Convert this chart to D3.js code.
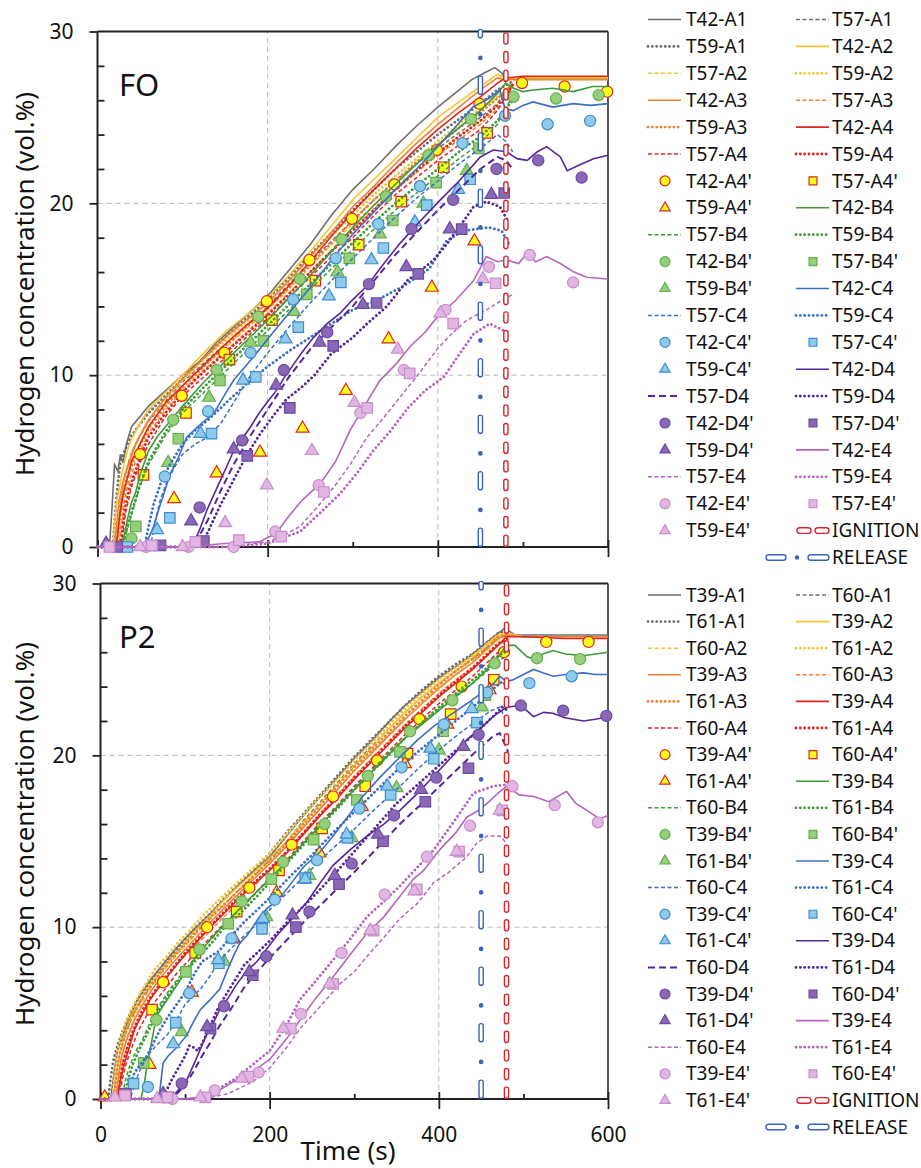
<!DOCTYPE html>
<html lang="en">
<head>
<meta charset="UTF-8">
<title>Hydrogen concentration - FO / P2</title>
<script src="https://d3js.org/d3.v7.min.js"></script>
<style>
  body { margin: 0; background: #fff; }
  svg text { font-family: "Noto Sans", sans-serif; fill: #111; }
</style>
</head>
<body>
<svg id="chart" width="921" height="1168"></svg>
<script>
// ---------- data: [time (s), H2 vol.%] ----------
const xTicks = [0, 200, 400, 600];
const xMinor = [100, 300, 500];
const yTicks = [0, 10, 20, 30];
const yMinor = [2, 4, 6, 8, 12, 14, 16, 18, 22, 24, 26, 28];
const releaseTime = 450;
const ignitionTime = 480;

// ---- FO ----
const fo_T42_A1 = [[0,0],[14,0],[17,2.2],[20,4.8],[24,4.4],[27,5.4],[30,4.9],[34,6],[40,7],[50,7.6],[60,8.2],[80,9.1],[100,10],[120,10.8],[140,11.9],[160,12.8],[180,13.7],[200,14.6],[225,16.1],[250,17.6],[275,19.3],[300,20.8],[325,22],[350,23.3],[375,24.5],[400,25.6],[420,26.4],[440,27.2],[455,27.6],[467,27.9],[475,27.6],[480,27.2],[500,27.3],[550,27.3],[600,27.3]];
const fo_T57_A1 = [[0,0],[22,0],[27,2.5],[32,4.2],[40,5.5],[50,6.5],[60,7.3],[80,8.5],[100,9.6],[125,10.7],[150,11.8],[175,12.9],[200,14],[225,15.3],[250,16.6],[275,17.8],[300,19],[325,20.2],[350,21.3],[375,22.3],[400,23.2],[425,24.1],[450,25],[470,25.8],[480,26.6],[488,27]];
const fo_T59_A1 = [[0,0],[18,0],[22,2.8],[27,5],[32,5.6],[40,6.5],[60,7.8],[80,8.8],[100,9.8],[125,11],[150,12.2],[175,13.3],[200,14.4],[225,15.7],[250,17],[275,18.3],[300,19.6],[325,20.8],[350,22],[375,23],[400,24],[425,24.9],[450,25.8],[470,26.6],[488,27.1]];
const fo_T42_A2 = [[0,0],[18,0],[22,2.5],[26,3.5],[30,4.6],[35,5.6],[40,6.3],[50,7.2],[60,8],[80,9],[100,10],[125,11.3],[150,12.5],[175,13.5],[200,14.5],[225,15.8],[250,17.2],[275,18.7],[300,20.2],[325,21.4],[350,22.6],[375,23.8],[400,25],[425,25.9],[450,26.8],[470,27.5],[480,27.3],[500,27.3],[550,27.3],[600,27.3]];
const fo_T57_A2 = [[0,0],[25,0],[30,2.4],[35,3.6],[40,4.8],[50,6],[60,7],[80,8.3],[100,9.4],[125,10.5],[150,11.6],[175,12.7],[200,13.8],[225,15],[250,16.3],[275,17.6],[300,18.8],[325,19.9],[350,21],[375,22],[400,23],[425,23.9],[450,24.8],[470,25.7],[480,26.4],[488,26.9]];
const fo_T59_A2 = [[0,0],[22,0],[27,2.8],[32,4],[40,5.5],[50,6.5],[60,7.4],[80,8.6],[100,9.7],[125,10.9],[150,12],[175,13.1],[200,14.2],[225,15.5],[250,16.8],[275,18.1],[300,19.3],[325,20.5],[350,21.6],[375,22.6],[400,23.6],[425,24.6],[450,25.5],[470,26.2],[488,27]];
const fo_T42_A3 = [[0,0],[20,0],[25,2.6],[30,3.8],[35,4.6],[45,6],[60,7.4],[80,8.7],[100,9.8],[125,11],[150,12.2],[175,13.2],[200,14.2],[225,15.5],[250,16.9],[275,18.3],[300,19.8],[325,21],[350,22.3],[375,23.5],[400,24.6],[425,25.6],[450,26.6],[470,27.3],[480,27.2],[500,27.2],[550,27.2],[600,27.2]];
const fo_T57_A3 = [[0,0],[25,0],[31,2.5],[36,3.6],[45,5],[60,6.6],[80,8],[100,9.1],[125,10.3],[150,11.4],[175,12.5],[200,13.6],[225,14.8],[250,16],[275,17.3],[300,18.5],[325,19.7],[350,20.8],[375,21.8],[400,22.8],[425,23.7],[450,24.6],[470,25.5],[480,26.2],[488,26.8]];
const fo_T59_A3 = [[0,0],[23,0],[28,2.6],[34,3.9],[45,5.4],[60,6.9],[80,8.2],[100,9.3],[125,10.5],[150,11.7],[175,12.8],[200,13.9],[225,15.1],[250,16.4],[275,17.7],[300,19],[325,20.2],[350,21.3],[375,22.4],[400,23.4],[425,24.4],[450,25.3],[470,26.1],[488,26.9]];
const fo_T42_A4 = [[0,0],[22,0],[26,1.8],[30,3],[35,4],[40,5],[50,6],[60,7],[80,8.4],[100,9.4],[125,10.6],[150,11.8],[175,12.9],[200,13.9],[225,15.2],[250,16.6],[275,18.1],[300,19.5],[325,20.8],[350,22],[375,23.2],[400,24.3],[425,25.3],[450,26.2],[470,27],[480,27.3],[500,27.4],[550,27.4],[600,27.4]];
const fo_T57_A4 = [[0,0],[28,0],[33,2],[40,3.5],[50,4.9],[60,6],[80,7.6],[100,8.8],[125,9.9],[150,11],[175,12.2],[200,13.3],[225,14.5],[250,15.7],[275,16.9],[300,18],[325,19.3],[350,20.5],[375,21.5],[400,22.5],[425,23.4],[450,24.3],[470,25.4],[480,26.2],[488,26.8]];
const fo_T59_A4 = [[0,0],[27,0],[32,2.2],[38,3.5],[50,5.2],[60,6.4],[80,7.8],[100,9],[125,10.2],[150,11.3],[175,12.4],[200,13.5],[225,14.7],[250,16],[275,17.2],[300,18.4],[325,19.6],[350,20.8],[375,21.9],[400,22.9],[425,23.9],[450,24.8],[470,25.7],[480,26.3],[488,26.9]];
const fo_T42_A4m = [[50,5.4],[99,8.8],[149,11.3],[199,14.3],[249,16.7],[299,19.1],[349,21.1],[399,23.1],[449,25.8],[499,27],[549,26.8],[599,26.5]];
const fo_T57_A4m = [[54,4.2],[104,7.8],[155,10.9],[205,13.2],[256,15.5],[307,17.6],[357,20.1],[407,22.1],[458,24.1]];
const fo_T59_A4m = [[90,2.8],[140,4.3],[191,5.5],[241,6.9],[292,9.1],[342,12.1],[393,15.1],[443,17.8]];
const fo_T42_B4 = [[0,0],[28,0],[32,0.8],[36,1.8],[40,2.6],[45,3.2],[50,4.2],[60,5.6],[70,6.4],[85,7.3],[100,8.2],[125,9.6],[150,10.8],[175,12],[200,13.2],[225,14.5],[250,15.8],[275,17.2],[300,18.6],[325,19.9],[350,21.1],[375,22.3],[400,23.4],[425,24.4],[450,25.4],[470,26.4],[480,27],[489,26.7],[500,26.5],[512,26.6],[535,26.7],[559,26.5],[582,26.8],[600,26.8]];
const fo_T57_B4 = [[0,0],[30,0],[36,1.2],[42,2.2],[50,3.6],[60,4.8],[80,6.5],[100,7.8],[125,9],[150,10.2],[175,11.4],[200,12.6],[225,13.8],[250,15],[275,16.2],[300,17.3],[325,18.5],[350,19.6],[375,20.6],[400,21.6],[425,22.6],[450,23.5],[470,24.6],[480,25.6],[488,26.2]];
const fo_T59_B4 = [[0,0],[29,0],[34,1],[40,2],[50,3.6],[60,5],[80,6.7],[100,8],[125,9.3],[150,10.5],[175,11.7],[200,12.9],[225,14.1],[250,15.3],[275,16.5],[300,17.7],[325,18.9],[350,20],[375,21],[400,22],[425,23],[450,23.9],[470,24.8],[480,25.5],[488,26]];
const fo_T42_B4m = [[40,0.5],[89,7.4],[140,10.3],[189,13.4],[238,15.6],[287,17.9],[339,20.4],[389,22.8],[439,24.9],[489,26.2],[539,26.1],[589,26.3]];
const fo_T57_B4m = [[45,1.2],[95,6.3],[144,9.7],[195,12],[246,14.7],[296,16.8],[347,19],[398,21.2],[448,23.2]];
const fo_T59_B4m = [[83,4.9],[131,8.7],[180,11.9],[231,13.7],[282,16],[332,18.2],[383,20],[434,21.9]];
const fo_T42_C4 = [[0,0],[50,0],[60,0.5],[66,1.2],[72,2.2],[78,3.1],[85,4.2],[95,5.2],[105,6.4],[120,7.1],[137,7.8],[150,8.9],[160,9.7],[172,10.4],[184,11.1],[200,12.1],[225,13.6],[250,15.1],[275,16.7],[300,18.2],[325,19.5],[350,20.8],[375,22],[400,23.3],[420,24.4],[441,25.6],[460,26.1],[473,26.6],[479,25.5],[489,25.4],[500,25.7],[512,25.9],[535,25.6],[559,25.8],[580,25.7],[600,25.8]];
const fo_T57_C4 = [[0,0],[62,0],[68,1.5],[73,2.6],[80,3.6],[90,4.6],[100,5.4],[115,6],[130,6.4],[145,7.2],[160,8.4],[180,10],[200,11.3],[225,12.8],[250,14.2],[275,15.5],[300,16.8],[325,18],[350,19.2],[375,20.3],[400,21.3],[425,22.3],[450,23.2],[470,24],[480,23.6],[488,23]];
const fo_T59_C4 = [[0,0],[55,0],[60,1.2],[66,2.5],[75,3.8],[85,4.8],[100,6],[115,6.8],[130,7.4],[145,8.1],[160,8.8],[180,9.7],[200,10.5],[225,11.4],[250,12.2],[275,13],[300,13.8],[315,14.1],[330,14.4],[345,14.8],[360,15.2],[375,15.7],[390,16.2],[400,17],[410,17.8],[430,18.4],[445,18.5],[460,18.6],[475,18.4],[484,17.6]];
const fo_T42_C4m = [[79,4.1],[130,7.9],[180,11.3],[230,14.4],[280,16.8],[330,18.8],[379,21],[429,23.5],[479,25.1],[529,24.6],[579,24.8]];
const fo_T57_C4m = [[35,0],[85,1.7],[134,6.6],[186,9.9],[236,12.8],[286,15.4],[336,17.4],[387,19.9],[438,21.4]];
const fo_T59_C4m = [[70,1],[121,6.6],[171,9.7],[221,12.1],[272,14.6],[322,16.7],[373,18.9],[424,20.8]];
const fo_T42_D4 = [[0,0],[105,0],[113,0.2],[120,1],[129,2.2],[140,3.4],[152,4.7],[160,5.6],[170,6.3],[180,7],[190,7.8],[199,8.4],[210,9.1],[220,9.9],[230,10.6],[240,11.3],[254,12.2],[270,13],[285,13.6],[300,14.4],[317,15.2],[335,16.4],[356,17.7],[380,19],[403,20.2],[425,21.3],[450,22.7],[465,23.1],[481,23],[493,22.6],[505,22.5],[517,23],[528,23.3],[544,22.7],[552,21.9],[565,22.2],[583,22.6],[600,22.8]];
const fo_T57_D4 = [[0,0],[110,0],[118,0.5],[130,1.6],[145,3.3],[160,4.8],[180,6.5],[200,8],[225,9.9],[250,11.5],[275,12.8],[300,14],[325,15.5],[350,17],[375,18.3],[400,19.6],[425,20.8],[450,22],[470,22.7],[480,22.5],[488,22]];
const fo_T59_D4 = [[0,0],[115,0],[122,0.3],[129,0.8],[145,2.5],[160,3.9],[175,5.3],[190,6.5],[206,7.6],[222,8.6],[240,9.3],[255,10],[274,11.2],[300,12.2],[317,13],[340,14],[364,15.5],[380,16.1],[395,16.7],[410,17.6],[425,18.6],[442,19.8],[457,20.1],[473,19.8],[482,19]];
const fo_T42_D4m = [[120,2.3],[170,6.2],[219,10.3],[270,12.5],[319,15.3],[369,18.5],[418,20.2],[469,22],[518,22.5],[569,21.5]];
const fo_T57_D4m = [[23,0],[74,0.1],[125,0.35],[176,5.3],[226,8.1],[277,11.7],[328,14.2],[377,15.9],[428,18.5],[478,20.6]];
const fo_T59_D4m = [[10,0.2],[60,0],[110,1.5],[160,5.7],[210,9.4],[261,11.9],[312,14.1],[363,16.3],[414,18.5],[463,20.5]];
const fo_T42_E4 = [[0,0],[100,0],[150,0.2],[190,0.3],[210,0.8],[225,1.8],[240,2.7],[262,3.7],[280,5],[297,6.8],[315,8.3],[332,9.7],[350,10.6],[368,11.7],[385,12.5],[403,13.6],[420,14.3],[442,15.5],[457,16.9],[470,16.6],[481,16.7],[495,16.5],[505,17.1],[515,16.6],[528,16.9],[544,16.5],[560,16],[575,15.7],[600,15.6]];
const fo_T57_E4 = [[0,0],[150,0],[200,0.3],[220,0.7],[238,1.2],[258,2.3],[278,3.5],[297,4.8],[317,6.4],[336,7.5],[356,8.75],[378,10.1],[399,11.5],[416,12.4],[434,13.2],[457,13.8],[470,14.2],[488,14.7]];
const fo_T59_E4 = [[0,0],[150,0],[200,0.2],[238,0.9],[262,2],[285,3.1],[305,4.3],[324,5.6],[345,6.8],[365,8.1],[385,9.1],[407,9.9],[425,11.2],[442,12.4],[461,13],[477,12.6]];
const fo_T42_E4m = [[57,0],[107,0],[160,0],[209,0.9],[260,3.6],[309,7.8],[360,10.3],[409,13.8],[460,16.3],[508,17],[559,15.4]];
const fo_T57_E4m = [[14,0],[64,0.1],[115,0.3],[166,0.4],[216,0.6],[266,3.2],[317,8.1],[367,10.1],[418,13],[468,15.35]];
const fo_T59_E4m = [[50,0],[100,0],[150,1.4],[199,3.6],[252,5.6],[302,8.4],[353,11.5],[403,13.6],[453,15.6]];

// ---- P2 ----
const p2_T39_A1 = [[0,0],[12,0],[16,1.5],[20,2.8],[25,3.5],[30,4.2],[35,4.8],[42,5.6],[50,6.3],[60,7],[70,7.6],[80,8.2],[90,8.8],[105,9.6],[120,10.3],[140,11.3],[160,12.3],[180,13.2],[200,14.1],[220,15.3],[240,16.5],[260,17.6],[280,18.7],[300,19.8],[320,20.8],[340,21.9],[360,22.9],[380,23.7],[400,24.5],[415,25],[430,25.5],[445,26.1],[460,26.7],[470,27.1],[478,27.4],[490,27],[520,27],[560,27],[600,27]];
const p2_T60_A1 = [[0,0],[15,0],[19,1.5],[23,2.7],[30,3.8],[35,4.5],[42,5.2],[50,5.9],[70,7.2],[90,8.4],[120,10],[140,11],[160,12],[180,12.9],[200,13.9],[220,15],[240,16.2],[260,17.3],[280,18.4],[300,19.5],[320,20.5],[340,21.5],[360,22.5],[380,23.4],[400,24.2],[420,24.9],[440,25.6],[455,26.2],[470,26.8],[482,27]];
const p2_T61_A1 = [[0,0],[9,0],[12,1.2],[15,2.2],[20,3.1],[25,3.8],[35,5],[45,5.9],[55,6.5],[65,7.2],[75,7.9],[90,8.7],[100,9.3],[115,10.1],[130,10.8],[145,11.6],[160,12.3],[180,13.3],[200,14.3],[220,15.5],[240,16.6],[260,17.7],[280,18.8],[300,19.9],[320,20.9],[340,21.9],[360,22.9],[380,23.8],[400,24.6],[420,25.3],[440,25.9],[455,26.5],[470,27.1],[482,27.3]];
const p2_T39_A2 = [[0,0],[15,0],[19,1.4],[22,2.5],[28,3.6],[35,4.7],[45,5.6],[55,6.4],[65,7.1],[80,8],[95,8.8],[110,9.7],[130,10.7],[150,11.8],[175,12.9],[200,14],[220,15],[240,16.1],[260,17.2],[280,18.3],[300,19.4],[320,20.4],[340,21.5],[360,22.5],[380,23.4],[400,24.2],[420,24.9],[440,25.7],[455,26.4],[470,27],[480,27.1],[500,26.9],[550,26.9],[600,26.9]];
const p2_T60_A2 = [[0,0],[18,0],[22,1.5],[25,2.5],[32,3.7],[40,4.8],[50,5.7],[60,6.5],[72,7.3],[85,8.1],[100,8.9],[115,9.7],[130,10.5],[150,11.5],[175,12.7],[200,13.8],[220,14.8],[240,15.9],[260,16.9],[280,18],[300,19.1],[320,20.2],[340,21.2],[360,22.2],[380,23.1],[400,24],[420,24.7],[440,25.4],[455,26],[470,26.7],[482,26.9]];
const p2_T61_A2 = [[0,0],[14,0],[17,1.6],[20,2.8],[25,3.7],[30,4.5],[38,5.3],[45,6],[55,6.8],[65,7.6],[78,8.3],[90,9],[105,9.8],[120,10.6],[140,11.6],[160,12.5],[180,13.4],[200,14.3],[220,15.4],[240,16.5],[260,17.6],[280,18.6],[300,19.7],[320,20.7],[340,21.7],[360,22.7],[380,23.6],[400,24.4],[420,25.1],[440,25.8],[455,26.4],[470,27],[482,27.1]];
const p2_T39_A3 = [[0,0],[18,0],[22,1.5],[25,2.5],[32,3.6],[40,4.6],[50,5.5],[60,6.3],[72,7.1],[85,7.9],[100,8.7],[115,9.5],[130,10.3],[150,11.3],[175,12.5],[200,13.7],[220,14.7],[240,15.8],[260,16.9],[280,18],[300,19.1],[320,20.1],[340,21.1],[360,22.1],[380,23],[400,23.9],[420,24.7],[440,25.4],[455,26.1],[470,26.8],[480,27],[500,26.9],[550,26.9],[600,26.9]];
const p2_T60_A3 = [[0,0],[20,0],[24,1.5],[28,2.5],[36,3.6],[45,4.6],[55,5.5],[65,6.2],[78,7],[90,7.8],[105,8.6],[120,9.3],[140,10.3],[160,11.3],[180,12.3],[200,13.4],[220,14.4],[240,15.5],[260,16.6],[280,17.7],[300,18.8],[320,19.8],[340,20.8],[360,21.8],[380,22.7],[400,23.6],[420,24.4],[440,25.1],[455,25.7],[470,26.4],[482,26.7]];
const p2_T61_A3 = [[0,0],[16,0],[19,1.4],[22,2.5],[28,3.6],[35,4.6],[45,5.5],[55,6.3],[67,7.1],[80,8],[95,8.8],[110,9.6],[130,10.6],[150,11.5],[175,12.7],[200,13.9],[220,14.9],[240,16],[260,17.1],[280,18.2],[300,19.3],[320,20.3],[340,21.3],[360,22.3],[380,23.2],[400,24.1],[420,24.9],[440,25.6],[455,26.2],[470,26.9],[482,27]];
const p2_T39_A4 = [[0,0],[20,0],[24,1.2],[28,2],[34,3],[40,4],[50,5],[60,5.9],[72,6.7],[85,7.5],[100,8.4],[115,9.2],[130,10],[150,11],[175,12.2],[200,13.3],[220,14.3],[240,15.4],[260,16.5],[280,17.5],[300,18.6],[320,19.6],[340,20.6],[360,21.6],[380,22.5],[400,23.4],[420,24.2],[440,25],[455,25.7],[470,26.4],[480,26.9],[500,26.9],[550,26.8],[600,26.8]];
const p2_T60_A4 = [[0,0],[22,0],[26,1.2],[30,2],[37,3],[45,4],[55,4.9],[65,5.7],[78,6.5],[90,7.3],[105,8.1],[120,8.9],[140,9.9],[160,10.8],[180,11.8],[200,12.9],[220,13.9],[240,15],[260,16.1],[280,17.1],[300,18.2],[320,19.2],[340,20.2],[360,21.2],[380,22.1],[400,23],[420,23.8],[440,24.6],[455,25.3],[470,26],[482,26.5]];
const p2_T61_A4 = [[0,0],[20,0],[24,1.3],[27,2.2],[33,3.2],[40,4.2],[50,5.2],[60,6],[72,6.8],[85,7.6],[100,8.5],[115,9.3],[130,10.1],[150,11.1],[175,12.3],[200,13.4],[220,14.4],[240,15.5],[260,16.6],[280,17.6],[300,18.7],[320,19.7],[340,20.7],[360,21.7],[380,22.6],[400,23.5],[420,24.3],[440,25.1],[455,25.8],[470,26.5],[482,26.8]];
const p2_T39_A4m = [[74,6.8],[126,10],[176,12.3],[226,14.8],[275,17.6],[327,19.7],[377,22.1],[427,24],[477,26],[527,26.6],[577,26.6]];
const p2_T60_A4m = [[61,5.2],[112,8.5],[161,10.9],[211,13.3],[262,15.75],[313,18.2],[363,20.1],[414,22.4],[465,24.4]];
const p2_T61_A4m = [[5,0.1],[58,2],[108,6.2],[158,9.3],[208,12],[259,14.3],[309,17],[360,19.5],[410,21.8],[460,23.8]];
const p2_T39_B4 = [[0,0],[48,0],[52,1],[56,2.2],[60,3.2],[66,4.8],[75,5.5],[90,6.6],[102,7.5],[115,8.4],[130,9.3],[145,10.1],[157,10.7],[175,11.6],[200,12.8],[220,13.8],[240,14.9],[260,15.9],[280,17],[300,18],[320,19],[340,20],[360,21],[380,21.8],[400,22.6],[420,23.4],[440,24.2],[455,24.9],[470,25.7],[480,26.4],[490,26.4],[504,25.75],[512,25.6],[523,25.9],[535,26.1],[550,25.9],[571,25.8],[585,25.9],[600,26]];
const p2_T60_B4 = [[0,0],[25,0],[30,1.2],[35,2],[42,2.8],[50,3.5],[60,4.6],[70,5.5],[82,6.4],[95,7.2],[108,8],[120,8.7],[140,9.8],[160,10.8],[180,11.8],[200,12.8],[220,13.8],[240,14.9],[260,16],[280,17],[300,18.1],[320,19.1],[340,20.1],[360,21],[380,21.9],[400,22.7],[420,23.5],[440,24.2],[455,24.8],[470,25.5],[482,25.8]];
const p2_T61_B4 = [[0,0],[28,0],[33,1.2],[38,2],[46,2.9],[55,3.8],[65,4.8],[75,5.7],[88,6.6],[100,7.4],[115,8.2],[130,9],[145,9.9],[165,10.8],[185,11.8],[200,12.6],[220,13.7],[240,14.8],[260,15.9],[280,16.9],[300,18],[320,19],[340,20],[360,21],[380,21.9],[400,22.8],[420,23.6],[440,24.4],[455,25],[470,25.8],[482,26.1]];
const p2_T39_B4m = [[66,4.6],[117,8.7],[167,11.5],[216,13.8],[265,16],[316,18.8],[366,21.4],[416,23.2],[466,25.35],[516,25.65],[567,25.6]];
const p2_T60_B4m = [[51,2.1],[101,7.4],[151,10.2],[202,12.8],[252,15.1],[303,17.4],[354,20.2],[405,21.4],[455,23.5]];
const p2_T61_B4m = [[96,3.9],[146,8],[196,10.6],[247,13],[297,15.2],[350,18.1],[400,20.3],[451,22.8]];
const p2_T39_C4 = [[0,0],[65,0],[70,0.4],[74,2.1],[80,2.5],[90,3],[102,3.7],[110,4.5],[118,5.2],[130,5.8],[141,6.4],[150,7.5],[158,8.4],[165,9.1],[173,9.5],[180,10],[188,10.6],[197,11.1],[210,11.6],[220,12.2],[240,13.5],[260,14.4],[275,15.3],[295,16.6],[310,17.6],[330,18.7],[354,19.9],[375,20.9],[394,21.7],[415,22.4],[433,23],[450,23.6],[465,24.2],[472,24.6],[480,24.3],[488,24.4],[500,24.7],[512,25],[523,24.8],[535,24.6],[550,24.7],[571,24.8],[585,24.7],[600,24.7]];
const p2_T60_C4 = [[0,0],[35,0],[40,0.8],[45,1.5],[52,2.2],[60,2.8],[70,3.3],[80,3.8],[90,4.6],[100,5.5],[110,6],[120,6.5],[130,7.2],[140,8],[155,8.8],[170,9.5],[185,10.2],[200,11],[225,12.2],[250,13.4],[275,14.6],[300,15.7],[325,16.9],[350,18],[375,19.2],[400,20.3],[425,21.3],[450,22.2],[462,22.6],[472,22.8],[482,21.8]];
const p2_T61_C4 = [[0,0],[30,0],[35,0.8],[40,1.5],[47,2],[55,2.5],[62,3.2],[70,4],[80,4.8],[90,5.5],[100,6.2],[110,7.2],[120,8],[130,8.3],[140,8.6],[155,9.5],[170,10.3],[185,11],[200,11.7],[225,13],[250,14.2],[275,15.5],[300,16.7],[325,17.9],[350,19.1],[375,20.2],[400,21.2],[425,22.2],[450,23.2],[465,23.9],[475,24.3],[482,24]];
const p2_T39_C4m = [[56,0.7],[105,6.15],[155,9.35],[206,11.6],[256,13.9],[306,16.9],[356,19.3],[406,21.8],[457,23.65],[507,24.2],[557,24.6]];
const p2_T60_C4m = [[39,0.9],[89,4.45],[140,7.9],[191,9.9],[242,12.85],[292,15.2],[343,17.7],[394,19.8],[445,21.9]];
const p2_T61_C4m = [[86,3.2],[139,8.1],[192,10.5],[242,12.8],[291,15.4],[339,18.2],[390,20.4],[439,22.7]];
const p2_T39_D4 = [[0,0],[78,0],[90,0.4],[102,1.1],[112,2.2],[125,3.7],[133,4.4],[141,5.2],[150,5.8],[160,6.6],[172,7.4],[185,8],[196,8.7],[210,9.6],[225,10.4],[244,11.45],[260,12.6],[275,13.6],[295,14.5],[315,15.3],[335,16],[354,16.8],[375,17.8],[394,18.8],[415,19.9],[433,20.9],[450,21.6],[464,22.25],[480,22.8],[496,22.9],[504,22.6],[512,22.25],[524,22.5],[535,22.45],[548,22.2],[559,22.1],[571,22],[585,22.1],[600,22.25]];
const p2_T60_D4 = [[0,0],[80,0],[90,0.3],[100,0.8],[110,1.6],[120,2.5],[130,3.3],[140,4.2],[155,5.3],[170,6.5],[185,7.4],[200,8.2],[225,9.5],[250,10.8],[275,12],[300,13.2],[325,14.5],[354,16],[378,17.1],[401,18.2],[420,19.1],[441,20.1],[464,21.1],[472,21.3],[482,20.2]];
const p2_T61_D4 = [[0,0],[70,0],[78,0.5],[85,1.2],[92,1.8],[100,2.5],[105,3.1],[110,3],[115,2.8],[120,3.2],[130,4.3],[140,5.4],[155,6.6],[170,7.8],[185,8.5],[200,9.2],[225,10.5],[250,11.7],[275,13],[300,14.4],[325,15.8],[350,17.2],[375,18.3],[400,19.4],[425,20.5],[450,21.6],[465,22.3],[475,22.8],[482,22.6]];
const p2_T39_D4m = [[96,0.9],[146,5.4],[196,8.3],[247,10.9],[297,13.7],[347,16.5],[397,18.7],[447,21.2],[497,22.9],[547,22.6],[598,22.3]];
const p2_T60_D4m = [[30,0.3],[80,0.1],[130,4.1],[180,7.2],[231,10],[282,12.5],[334,15],[384,17.3],[435,19.25]];
const p2_T61_D4m = [[74,0.3],[126,4.2],[176,7.4],[227,10.7],[277,13],[328,15.4],[379,18],[429,20.5]];
const p2_T39_E4 = [[0,0],[100,0],[130,0.2],[157,1],[180,1.6],[200,2.3],[220,3.5],[236,4.6],[255,5.9],[275,7.1],[295,8.4],[315,9.65],[335,10.6],[354,11.8],[370,12.8],[382,13.3],[401,14.5],[420,15.5],[433,16.4],[447,16.8],[457,17.2],[470,17.8],[480,18.2],[495,17.7],[512,17.6],[530,17.3],[551,17.9],[562,17.2],[575,16.8],[590,16.3],[600,16.5]];
const p2_T60_E4 = [[0,0],[120,0],[150,0.3],[180,1],[200,1.8],[220,3],[236,4.1],[260,5.4],[283,6.7],[300,7.4],[315,8.3],[335,9.4],[354,10.5],[375,11.4],[394,12.6],[412,13.2],[433,14.1],[445,14.9],[457,15.3],[472,15.3],[480,14.9]];
const p2_T61_E4 = [[0,0],[110,0],[130,0.3],[160,1.2],[180,2],[200,2.8],[220,4.3],[236,5.8],[255,6.9],[275,8.1],[295,9.3],[315,10.6],[335,11.5],[354,12.4],[375,13.5],[394,14.5],[420,16.3],[441,17.8],[464,18.2],[480,18.3]];
const p2_T39_E4m = [[85,0],[135,0.5],[187,1.55],[237,4.95],[285,8.5],[336,11.9],[386,14.1],[437,15.9],[487,18.2],[537,17.1],[588,16.1]];
const p2_T60_E4m = [[29,0.2],[79,0.1],[124,0.1],[175,1.3],[225,4.1],[275,6.7],[323,9.8],[374,12.2],[424,14.4],[475,16.8]];
const p2_T61_E4m = [[17,0.1],[67,0],[118,0.1],[167,1.2],[216,4.1],[271,6.7],[319,9.8],[371,12.1],[421,14.4],[472,16.8]];

// ---------- styles ----------
const groups = ["A1", "A2", "A3", "A4", "B4", "C4", "D4", "E4"];
const markerGroups = ["A4", "B4", "C4", "D4", "E4"];
const lineColor = { A1: "#6f6f6f", A2: "#f7c431", A3: "#ee8133", A4: "#e2231e", B4: "#3e9c38", C4: "#3b6fc6", D4: "#55259b", E4: "#b565bc" };
const markFill = { A4: "#ffff1a", B4: "#94cf79", C4: "#8ecbeb", D4: "#8b67b7", E4: "#e2b5e3" };
const markStroke = { A4: "#e2231e", B4: "#64ae4d", C4: "#3f8bd0", D4: "#6a4aa2", E4: "#c68fcb" };
const shapes = [d3.symbolCircle, d3.symbolSquare, d3.symbolTriangle];
const plotSize = [98, 110, 72];
const keySize = [78, 62, 46];
const ignitionRed = "#d8262a";
const releaseBlue = "#3a63bf";

const panels = [
  {
    label: "FO", runs: ["T42", "T57", "T59"],
    top: 31.5, bottom: 547, left: 97.5, right: 608,
    labelY: 96, titleY: 284, xLabels: false,
    legendY0: 19.5, legendStep: 26.9,
    data: {
      "T42-A1": fo_T42_A1, "T57-A1": fo_T57_A1, "T59-A1": fo_T59_A1,
      "T42-A2": fo_T42_A2, "T57-A2": fo_T57_A2, "T59-A2": fo_T59_A2,
      "T42-A3": fo_T42_A3, "T57-A3": fo_T57_A3, "T59-A3": fo_T59_A3,
      "T42-A4": fo_T42_A4, "T57-A4": fo_T57_A4, "T59-A4": fo_T59_A4,
      "T42-A4'": fo_T42_A4m, "T57-A4'": fo_T57_A4m, "T59-A4'": fo_T59_A4m,
      "T42-B4": fo_T42_B4, "T57-B4": fo_T57_B4, "T59-B4": fo_T59_B4,
      "T42-B4'": fo_T42_B4m, "T57-B4'": fo_T57_B4m, "T59-B4'": fo_T59_B4m,
      "T42-C4": fo_T42_C4, "T57-C4": fo_T57_C4, "T59-C4": fo_T59_C4,
      "T42-C4'": fo_T42_C4m, "T57-C4'": fo_T57_C4m, "T59-C4'": fo_T59_C4m,
      "T42-D4": fo_T42_D4, "T57-D4": fo_T57_D4, "T59-D4": fo_T59_D4,
      "T42-D4'": fo_T42_D4m, "T57-D4'": fo_T57_D4m, "T59-D4'": fo_T59_D4m,
      "T42-E4": fo_T42_E4, "T57-E4": fo_T57_E4, "T59-E4": fo_T59_E4,
      "T42-E4'": fo_T42_E4m, "T57-E4'": fo_T57_E4m, "T59-E4'": fo_T59_E4m
    }
  },
  {
    label: "P2", runs: ["T39", "T60", "T61"],
    top: 583.5, bottom: 1099, left: 100.5, right: 608,
    labelY: 648, titleY: 834, xLabels: true,
    legendY0: 595, legendStep: 26.6,
    data: {
      "T39-A1": p2_T39_A1, "T60-A1": p2_T60_A1, "T61-A1": p2_T61_A1,
      "T39-A2": p2_T39_A2, "T60-A2": p2_T60_A2, "T61-A2": p2_T61_A2,
      "T39-A3": p2_T39_A3, "T60-A3": p2_T60_A3, "T61-A3": p2_T61_A3,
      "T39-A4": p2_T39_A4, "T60-A4": p2_T60_A4, "T61-A4": p2_T61_A4,
      "T39-A4'": p2_T39_A4m, "T60-A4'": p2_T60_A4m, "T61-A4'": p2_T61_A4m,
      "T39-B4": p2_T39_B4, "T60-B4": p2_T60_B4, "T61-B4": p2_T61_B4,
      "T39-B4'": p2_T39_B4m, "T60-B4'": p2_T60_B4m, "T61-B4'": p2_T61_B4m,
      "T39-C4": p2_T39_C4, "T60-C4": p2_T60_C4, "T61-C4": p2_T61_C4,
      "T39-C4'": p2_T39_C4m, "T60-C4'": p2_T60_C4m, "T61-C4'": p2_T61_C4m,
      "T39-D4": p2_T39_D4, "T60-D4": p2_T60_D4, "T61-D4": p2_T61_D4,
      "T39-D4'": p2_T39_D4m, "T60-D4'": p2_T60_D4m, "T61-D4'": p2_T61_D4m,
      "T39-E4": p2_T39_E4, "T60-E4": p2_T60_E4, "T61-E4": p2_T61_E4,
      "T39-E4'": p2_T39_E4m, "T60-E4'": p2_T60_E4m, "T61-E4'": p2_T61_E4m
    }
  }
];

// legend order = drawing order
function seriesList(p) {
  const out = [];
  groups.forEach(g => {
    p.runs.forEach((r, i) => out.push({ kind: "line", name: `${r}-${g}`, group: g, idx: i }));
    if (markerGroups.includes(g)) {
      p.runs.forEach((r, i) => out.push({ kind: "mark", name: `${r}-${g}'`, group: g, idx: i }));
    }
  });
  return out;
}

function styleLine(sel, s) {
  sel.attr("fill", "none").attr("stroke", lineColor[s.group]);
  if (s.idx === 0) {
    sel.attr("stroke-width", 1.6);
  } else if (s.idx === 1) {
    if (s.group === "D4") sel.attr("stroke-width", 2).attr("stroke-dasharray", "7,4");
    else sel.attr("stroke-width", 1.5).attr("stroke-dasharray", "4,2.5");
  } else {
    sel.attr("stroke-width", 2.8).attr("stroke-dasharray", "0.1,4.2").attr("stroke-linecap", "round");
  }
  return sel;
}

function styleMark(sel, s, size) {
  return sel.attr("d", d3.symbol(shapes[s.idx], size[s.idx])())
    .attr("fill", markFill[s.group]).attr("stroke", markStroke[s.group]).attr("stroke-width", 1.2);
}

// hollow capsule dashes drawn along a path
function capsuleLine(g, pts, color, dash, offset) {
  const d = d3.line()(pts);
  g.append("path").attr("d", d).attr("fill", "none").attr("stroke", color)
    .attr("stroke-width", 5.6).attr("stroke-linecap", "round")
    .attr("stroke-dasharray", dash).attr("stroke-dashoffset", offset);
  g.append("path").attr("d", d).attr("fill", "none").attr("stroke", "#fff")
    .attr("stroke-width", 2.8).attr("stroke-linecap", "round")
    .attr("stroke-dasharray", dash).attr("stroke-dashoffset", offset);
}

const svg = d3.select("#chart");
panels.forEach(drawPanel);

function drawPanel(p) {
  const x = d3.scaleLinear().domain([0, 600]).range([p.left, p.right]);
  const y = d3.scaleLinear().domain([0, 30]).range([p.bottom, p.top]);
  const g = svg.append("g");

  // grid
  g.append("g").selectAll("line").data([200, 400]).join("line")
    .attr("x1", d => x(d)).attr("x2", d => x(d)).attr("y1", y(0)).attr("y2", y(30))
    .attr("stroke", "#b9b9b9").attr("stroke-width", 1).attr("stroke-dasharray", "5,4");
  g.append("g").selectAll("line").data([10, 20]).join("line")
    .attr("x1", x(0)).attr("x2", x(600)).attr("y1", d => y(d)).attr("y2", d => y(d))
    .attr("stroke", "#b9b9b9").attr("stroke-width", 1).attr("stroke-dasharray", "5,4");

  // frame
  g.append("line").attr("x1", x(0)).attr("x2", x(600)).attr("y1", y(30)).attr("y2", y(30))
    .attr("stroke", "#222").attr("stroke-width", 1.8);
  g.append("line").attr("x1", x(600)).attr("x2", x(600)).attr("y1", y(30)).attr("y2", y(0))
    .attr("stroke", "#444").attr("stroke-width", 1.8);

  // axes
  const yAx = g.append("g").attr("transform", `translate(${x(0)},0)`)
    .call(d3.axisLeft(y).tickValues(yTicks).tickSizeInner(8).tickSizeOuter(0).tickPadding(16));
  const yMin = g.append("g").attr("transform", `translate(${x(0)},0)`)
    .call(d3.axisLeft(y).tickValues(yMinor).tickSizeInner(-7).tickSizeOuter(0).tickFormat(""));
  const xAx = g.append("g").attr("transform", `translate(0,${y(0)})`)
    .call(d3.axisBottom(x).tickValues(xTicks).tickSizeInner(10).tickSizeOuter(0).tickPadding(18)
      .tickFormat(p.xLabels ? d3.format("d") : ""));
  const xIn = g.append("g").attr("transform", `translate(0,${y(0)})`)
    .call(d3.axisBottom(x).tickValues(xTicks).tickSizeInner(-7).tickSizeOuter(0).tickFormat(""));
  const xMin = g.append("g").attr("transform", `translate(0,${y(0)})`)
    .call(d3.axisBottom(x).tickValues(xMinor).tickSizeInner(-5).tickSizeOuter(0).tickFormat(""));
  [yAx, yMin, xAx, xIn, xMin].forEach(a => {
    a.select(".domain").remove();
    a.attr("font-family", null).attr("font-size", 21);
    a.selectAll(".tick line").attr("stroke", "#222").attr("stroke-width", 1.8);
  });
  g.append("line").attr("x1", x(0)).attr("x2", x(0)).attr("y1", y(30)).attr("y2", y(0))
    .attr("stroke", "#222").attr("stroke-width", 2);
  g.append("line").attr("x1", x(0)).attr("x2", x(600)).attr("y1", y(0)).attr("y2", y(0))
    .attr("stroke", "#222").attr("stroke-width", 2);

  // series
  const line = d3.line().x(d => x(d[0])).y(d => y(d[1]));
  const list = seriesList(p);
  list.forEach(s => {
    const pts = p.data[s.name];
    if (s.kind === "line") {
      styleLine(g.append("path").datum(pts).attr("d", line), s);
    } else {
      const m = g.append("g").selectAll("path").data(pts).join("path")
        .attr("transform", d => `translate(${x(d[0])},${y(d[1])})`);
      styleMark(m, s, plotSize);
    }
  });

  // release and ignition lines
  const ev = g.append("g");
  capsuleLine(ev, [[x(releaseTime), y(0)], [x(releaseTime), y(30)]], releaseBlue, "14,42.5", -2.8);
  ev.append("path").attr("d", d3.line()([[x(releaseTime), y(0)], [x(releaseTime), y(30)]]))
    .attr("fill", "none").attr("stroke", releaseBlue).attr("stroke-width", 4.6)
    .attr("stroke-linecap", "round").attr("stroke-dasharray", "0.1,56.4").attr("stroke-dashoffset", -37);
  capsuleLine(ev, [[x(ignitionTime), y(0)], [x(ignitionTime), y(30)]], ignitionRed, "7,11.6", -2.8);

  // labels
  svg.append("text").attr("x", 119).attr("y", p.labelY).attr("font-size", 31).text(p.label);
  svg.append("text").attr("transform", `translate(34,${p.titleY}) rotate(-90)`)
    .attr("text-anchor", "middle").attr("font-size", 26).text("Hydrogen concentration (vol.%)");

  // legend
  const cols = [
    { x1: 648, x2: 681, mx: 665, tx: 686 },
    { x1: 796, x2: 829, mx: 813, tx: 832 }
  ];
  const lg = svg.append("g");
  const entries = list.map(s => ({ s, label: s.name }));
  entries.push({ event: "ign", label: "IGNITION" });
  entries.forEach((e, k) => {
    const c = cols[k % 2];
    const yy = p.legendY0 + Math.floor(k / 2) * p.legendStep;
    if (e.s && e.s.kind === "line") {
      styleLine(lg.append("line").attr("x1", c.x1).attr("x2", c.x2).attr("y1", yy).attr("y2", yy), e.s);
    } else if (e.s) {
      styleMark(lg.append("path").attr("transform", `translate(${c.mx},${yy})`), e.s, keySize);
    } else {
      [[797, 811], [815, 829]].forEach(([a, b]) => lg.append("rect")
        .attr("x", a).attr("y", yy - 2.8).attr("width", b - a).attr("height", 5.6).attr("rx", 2.8)
        .attr("fill", "#fff").attr("stroke", ignitionRed).attr("stroke-width", 1.4));
    }
    lg.append("text").attr("x", c.tx).attr("y", yy).attr("dy", "0.35em").attr("font-size", 19)
      .text(e.label);
  });
  // release key sits alone in the right column
  const ry = p.legendY0 + 20 * p.legendStep;
  [[766, 786], [808, 829]].forEach(([a, b]) => lg.append("rect")
    .attr("x", a).attr("y", ry - 2.8).attr("width", b - a).attr("height", 5.6).attr("rx", 2.8)
    .attr("fill", "#fff").attr("stroke", releaseBlue).attr("stroke-width", 1.4));
  lg.append("circle").attr("cx", 797).attr("cy", ry).attr("r", 2.2).attr("fill", releaseBlue);
  lg.append("text").attr("x", 832).attr("y", ry).attr("dy", "0.35em").attr("font-size", 19).text("RELEASE");
}

svg.append("text").attr("x", 348).attr("y", 1160).attr("text-anchor", "middle")
  .attr("font-size", 26).text("Time (s)");
</script>
</body>
</html>
